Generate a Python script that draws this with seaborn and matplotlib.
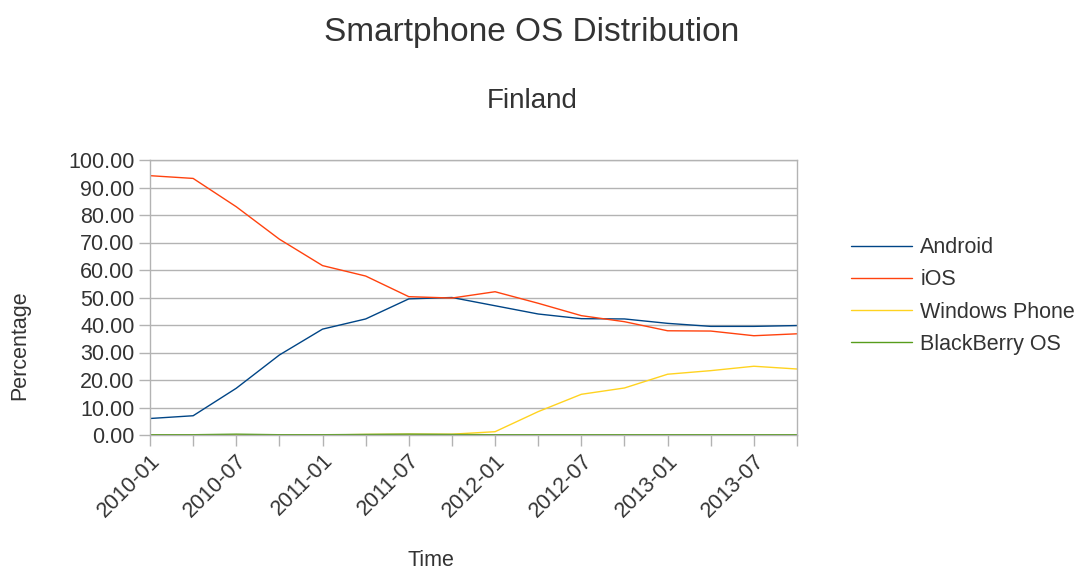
import pandas as pd
import seaborn as sns
import matplotlib.pyplot as plt

months = ["2010-01", "2010-04", "2010-07", "2010-10",
          "2011-01", "2011-04", "2011-07", "2011-10",
          "2012-01", "2012-04", "2012-07", "2012-10",
          "2013-01", "2013-04", "2013-07", "2013-10"]

android = [6.0, 7.0, 17.0, 29.1, 38.5, 42.2, 49.5, 50.0,
           47.0, 44.0, 42.3, 42.2, 40.6, 39.5, 39.5, 39.8]
ios = [94.3, 93.3, 83.0, 71.2, 61.6, 57.8, 50.3, 49.8,
       52.1, 47.9, 43.4, 41.2, 37.9, 37.8, 36.1, 36.8]
windows_phone = [0.0, 0.0, 0.1, 0.0, 0.0, 0.2, 0.3, 0.3,
                 1.2, 8.5, 14.8, 17.1, 22.1, 23.4, 25.0, 24.0]
blackberry = [0.1, 0.1, 0.3, 0.1, 0.1, 0.2, 0.3, 0.2,
              0.1, 0.1, 0.1, 0.1, 0.1, 0.1, 0.1, 0.1]

series = ["Android", "iOS", "Windows Phone", "BlackBerry OS"]
colors = ["#004586", "#ff420e", "#ffd320", "#579d1c"]

df = pd.DataFrame({"Time": months, "Android": android, "iOS": ios,
                   "Windows Phone": windows_phone, "BlackBerry OS": blackberry})
long = df.melt(id_vars="Time", var_name="OS", value_name="Percentage")

sns.set_style("white")
plt.rcParams["font.family"] = ["Liberation Sans", "DejaVu Sans"]
text_color = "#333333"
grid_color = "#b3b3b3"

fig = plt.figure(figsize=(10.87, 5.73), dpi=100)
ax = fig.add_axes([150 / 1087, 1 - 435 / 573, 647 / 1087, 275 / 573])

sns.lineplot(data=long, x="Time", y="Percentage", hue="OS", hue_order=series,
             palette=colors, linewidth=1.0, sort=False, ax=ax, legend=True)

ax.set_xlim(0, len(months) - 1)
ax.set_ylim(0, 100)
ax.set_yticks(range(0, 101, 10))
ax.set_yticklabels([f"{v:.2f}" for v in range(0, 101, 10)])
ax.set_xticks(range(len(months)))
ax.set_xticklabels([m if i % 2 == 0 else "" for i, m in enumerate(months)],
                   rotation=45, ha="right", rotation_mode="anchor")
ax.yaxis.grid(True, color=grid_color, linewidth=1)
ax.set_axisbelow(True)
for s in ax.spines.values():
    s.set_color(grid_color)
    s.set_linewidth(1)
ax.tick_params(axis="both", which="both", length=8, width=1, color=grid_color,
               labelsize=15.5, labelcolor=text_color, pad=3, left=True, bottom=True)

ax.set_xlabel("")
ax.set_ylabel("")
fig.text(20 / 1087, 1 - 345 / 573, "Percentage", rotation=90, ha="center", va="center",
         fontsize=15.5, color=text_color)
fig.text(431 / 1087, 1 - 561 / 573, "Time", ha="center", va="center",
         fontsize=15.5, color=text_color)
fig.text(532 / 1087, 1 - 41 / 573, "Smartphone OS Distribution", ha="center",
         va="baseline", fontsize=24, color=text_color)
fig.text(532 / 1087, 1 - 108 / 573, "Finland", ha="center", va="baseline",
         fontsize=20, color=text_color)

handles, labels = ax.get_legend_handles_labels()
ax.legend(handles, labels, loc="center left", bbox_to_anchor=(832 / 1087, 1 - 296 / 573),
          bbox_transform=fig.transFigure, frameon=False, fontsize=15.5,
          handlelength=2.8, handletextpad=0.4, labelspacing=0.52, labelcolor=text_color)

fig.savefig("out.png", dpi=100)
